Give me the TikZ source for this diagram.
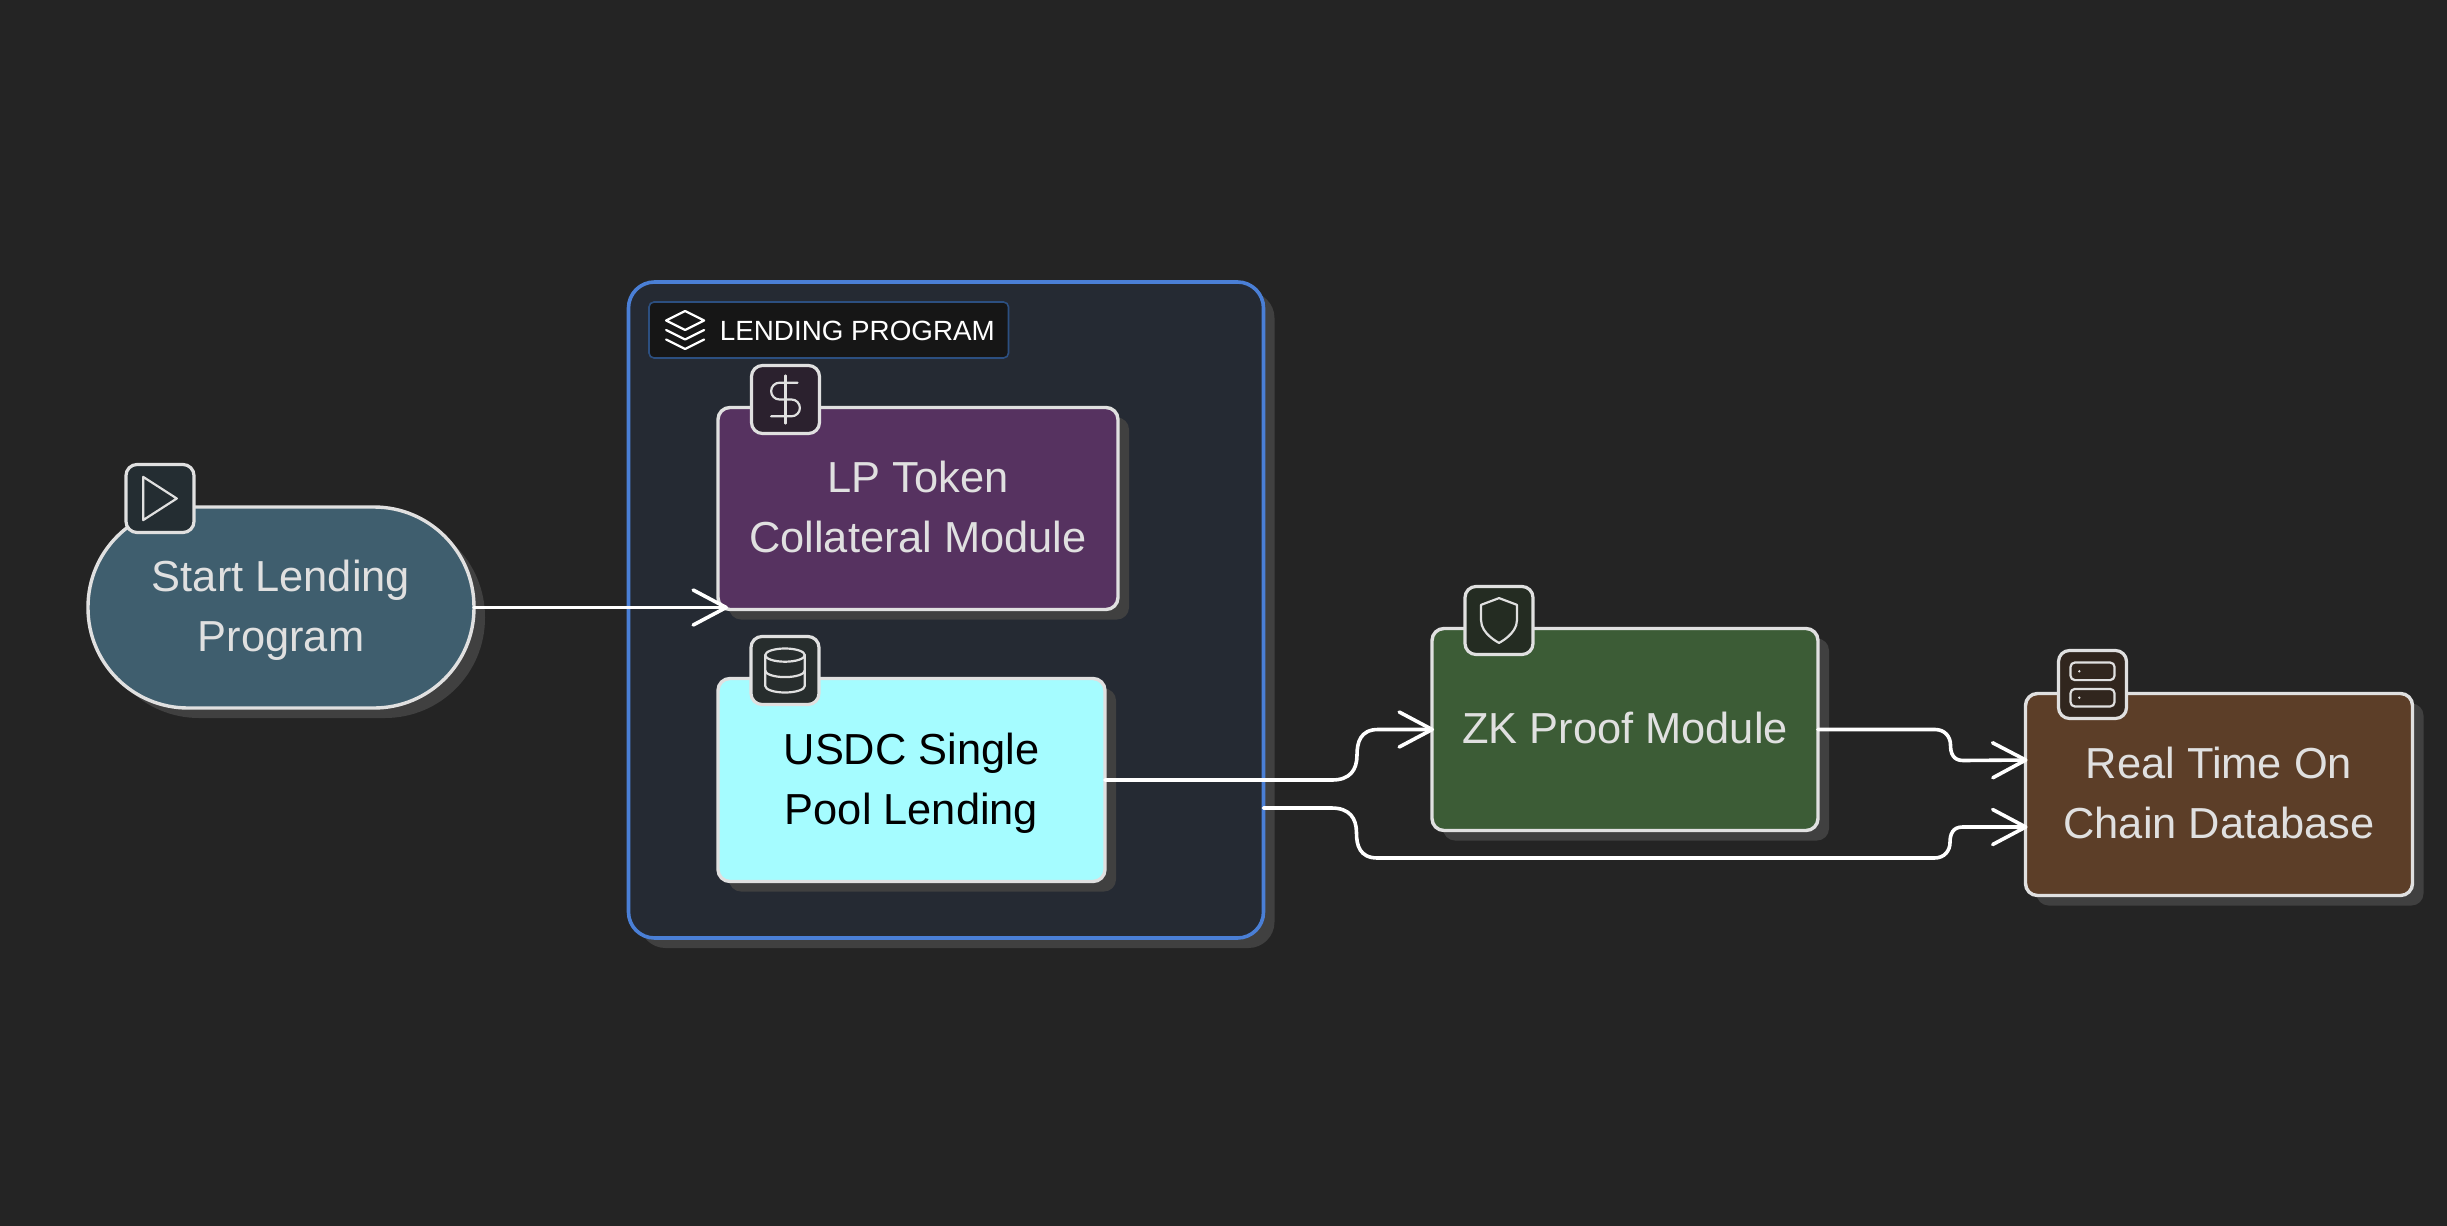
\documentclass[tikz,border=0pt]{standalone}
\usepackage{fontspec}
\setmainfont{Liberation Sans}
\usetikzlibrary{arrows.meta,shadows,positioning}

\definecolor{bgdark}{HTML}{242424}
\definecolor{shadowgray}{HTML}{404040}
\definecolor{edgegray}{HTML}{E0E0E0}
\definecolor{lendingfill}{HTML}{252A33}
\definecolor{lendingblue}{HTML}{4A7FD6}
\definecolor{titlefill}{HTML}{161616}
\definecolor{titleedge}{HTML}{2C4F80}
\definecolor{startfill}{HTML}{3F5E6E}
\definecolor{tokenfill}{HTML}{563260}
\definecolor{poolfill}{HTML}{A5FCFF}
\definecolor{proofill}{HTML}{3C5C36}
\definecolor{chainfill}{HTML}{5C3E28}

\newcommand{\linestrut}{\rule[-6pt]{0pt}{26pt}}

\tikzset{
  blockbox/.style={draw=edgegray, line width=1.7pt, outer sep=0pt, inner sep=0pt, align=center,
    rounded corners=6pt, text=edgegray, minimum width=#1,
    font=\fontsize{21.7}{30}\selectfont,
    drop shadow={shadow xshift=5.5pt, shadow yshift=-5pt, opacity=1, fill=shadowgray}},
  iconbox/.style={draw=edgegray, line width=1.6pt, rounded corners=5.5pt, outer sep=0pt, inner sep=0pt,
    minimum size=34pt},
  glyph/.style={draw=edgegray, line width=1.1pt, line join=round, line cap=round},
  flowline/.style={draw=white, line width=1.8pt, line cap=round, shorten >=-1pt,
    -{Straight Barb[length=16.5pt, width=17.5pt, line width=1.8pt, round]}},
}

\begin{document}
\begin{tikzpicture}[x=0.5pt, y=-0.5pt]
\useasboundingbox (0,0) rectangle (2447,1226);
\fill [bgdark] (0,0) rectangle (2447,1226);

\node (lending) at (946,610) [draw=lendingblue, line width=1.8pt, fill=lendingfill, rounded corners=13pt,
  outer sep=0pt, minimum width=317.5pt, minimum height=328pt,
  drop shadow={shadow xshift=5.5pt, shadow yshift=-5pt, opacity=1, fill=shadowgray}]{};
\node (titlebar) at (828.75,330) [draw=titleedge, line width=0.8pt, fill=titlefill, rounded corners=2.5pt,
  outer sep=0pt, minimum width=179.75pt, minimum height=28pt]{};
\node (titletext) [right=35.25pt of titlebar.west, anchor=west, yshift=-0.7pt, inner sep=0pt, text=white,
  font=\fontsize{13.9}{18}\selectfont]{LENDING PROGRAM};

\node (start) at (281,607.5) [blockbox=193pt, minimum height=100.5pt, fill=startfill, rounded corners=50pt]{\linestrut Start Lending\\Program\linestrut};
\node (token) at (918,508.5) [blockbox=200pt, minimum height=101pt, fill=tokenfill]{\linestrut LP Token\\Collateral Module\linestrut};
\node (pool) at (911.5,780) [blockbox=193.5pt, minimum height=101.5pt, fill=poolfill, text=black]{\linestrut USDC Single\\Pool Lending\linestrut};
\node (proof) at (1625,729.5) [blockbox=193pt, minimum height=101pt, fill=proofill]{\linestrut ZK Proof Module};
\node (chain) at (2219,794.5) [blockbox=193.5pt, minimum height=101pt, fill=chainfill]{\linestrut Real Time On\\Chain Database\linestrut};

\draw [flowline] (start.east) -- ([shift={(8,-2)}]token.south west);

\draw [flowline] (pool.east) -- ++(227,0)
  .. controls +(18,0) and +(0,15) .. ++(25,-25)
  .. controls +(0,-12) and +(-18,0) .. ++(21,-25.5) -- (proof.west);

\draw [flowline] ([yshift=-99pt]lending.east) -- ++(68,0)
  .. controls +(18,0) and +(0,-15) .. ++(25,25)
  .. controls +(0,12) and +(-18,0) .. ++(21,25) -- ++(557,0)
  .. controls +(10,0) and +(0,8) .. ++(15.5,-15.5)
  .. controls +(0,-8) and +(-10,0) .. ++(12.5,-15.5) -- ([yshift=-16.25pt]chain.west);

\draw [flowline] (proof.east) -- ++(117,0)
  .. controls +(10,0) and +(0,-8) .. ++(15.5,15.5)
  .. controls +(0,8) and +(-10,0) .. ++(12.5,15.5) -- ([yshift=17.25pt]chain.west);

\node (starticon) at (160,498.5) [iconbox, fill=startfill!35!bgdark!80!black]{};
\node (tokenicon) at (785.5,399.5) [iconbox, fill=tokenfill!35!bgdark!80!black]{};
\node (poolicon) at (785,670.5) [iconbox, fill=poolfill!8!bgdark!85!black]{};
\node (proofficon) at (1499,620.5) [iconbox, fill=proofill!35!bgdark!80!black]{};
\node (chainicon) at (2092.5,684.5) [iconbox, fill=chainfill!45!bgdark!80!black]{};

% icon glyphs on a 24 unit grid
\begin{scope}[shift={(starticon.center)}, x=1.2pt, y=-1.2pt, shift={(-12,-12)}]
\draw [glyph] (5,3) -- (19,12) -- (5,21) -- cycle;
\end{scope}

\begin{scope}[shift={(tokenicon.center)}, x=1.2pt, y=-1.2pt, shift={(-12,-12)}]
\draw [glyph] (12,2) -- (12,22);
\draw [glyph] (17,5) -- (9.5,5) .. controls (7.57,5) and (6,6.57) .. (6,8.5)
  .. controls (6,10.43) and (7.57,12) .. (9.5,12) -- (14.5,12)
  .. controls (16.43,12) and (18,13.57) .. (18,15.5)
  .. controls (18,17.43) and (16.43,19) .. (14.5,19) -- (6,19);
\end{scope}

\begin{scope}[shift={(poolicon.center)}, x=1.1pt, y=-1.1pt, shift={(-12,-12)}]
\draw [glyph] (12,5) ellipse [x radius=9, y radius=3];
\draw [glyph] (21,12) .. controls (21,13.66) and (17,15) .. (12,15) .. controls (7,15) and (3,13.66) .. (3,12);
\draw [glyph] (3,5) -- (3,19) .. controls (3,20.66) and (7,22) .. (12,22) .. controls (17,22) and (21,20.66) .. (21,19) -- (21,5);
\end{scope}

\begin{scope}[shift={(proofficon.center)}, x=1.12pt, y=-1.12pt, shift={(-12,-12)}]
\draw [glyph] (12,22) .. controls (12,22) and (20,18) .. (20,12) -- (20,5) -- (12,2) -- (4,5) -- (4,12) .. controls (4,18) and (12,22) .. (12,22) -- cycle;
\end{scope}

\begin{scope}[shift={(chainicon.center)}, x=1.1pt, y=-1.1pt, shift={(-12,-12)}]
\draw [glyph, rounded corners=2.2pt] (2,2) rectangle (22,10);
\draw [glyph, rounded corners=2.2pt] (2,14) rectangle (22,22);
\fill [edgegray] (6,6) circle [radius=0.6];
\fill [edgegray] (6,18) circle [radius=0.6];
\end{scope}

\begin{scope}[shift={(titlebar.west)}, x=0.95pt, y=-0.95pt, shift={(7,-12)}]
\draw [glyph, draw=white] (12,2) -- (2,7) -- (12,12) -- (22,7) -- cycle;
\draw [glyph, draw=white] (2,17) -- (12,22) -- (22,17);
\draw [glyph, draw=white] (2,12) -- (12,17) -- (22,12);
\end{scope}
\end{tikzpicture}
\end{document}
